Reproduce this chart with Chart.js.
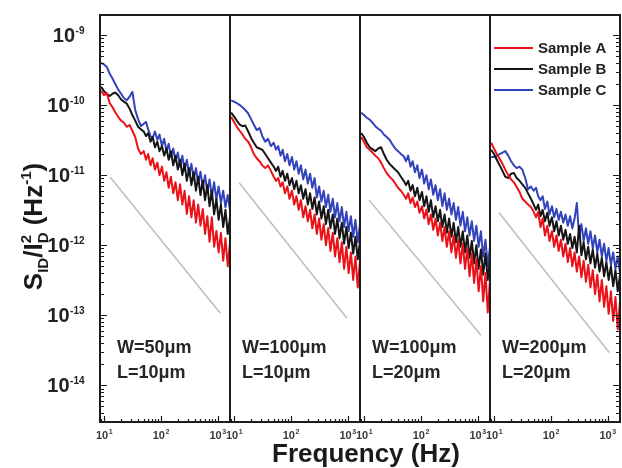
<!DOCTYPE html>
<html>
<head>
<meta charset="utf-8">
<script src="https://cdn.jsdelivr.net/npm/chart.js@4.4.1/dist/chart.umd.min.js"></script>
<style>
  html, body { margin: 0; padding: 0; background: #fff; }
  #wrap { width: 622px; height: 468px; }
</style>
</head>
<body>
<div id="wrap"><canvas id="noiseChart" width="622" height="468"></canvas></div>
<script>
// frequency points (Hz), shared by all four panels
const freqHz = [8.9, 10, 11.2, 12.6, 14.1, 15.8, 17.8, 20, 22.4, 25.1, 28.2, 31.6, 35.5, 39.8, 44.7, 50.1,
  55, 60, 66, 72, 79, 87, 95, 105, 115, 126, 138, 151, 166, 182, 200, 219, 240, 263, 288, 316, 347, 380,
  417, 457, 501, 550, 603, 661, 724, 794, 871, 955, 1047, 1148, 1259, 1380, 1514, 1660];

const sampleNames = ["Sample A", "Sample B", "Sample C"];
const sampleColors = ["#ea1218", "#151515", "#3343bb"];
const panelW = ["W=50\u03bcm", "W=100\u03bcm", "W=100\u03bcm", "W=200\u03bcm"];
const panelL = ["L=10\u03bcm", "L=10\u03bcm", "L=20\u03bcm", "L=20\u03bcm"];

// S_ID/I_D^2 (Hz^-1), panel 1 (W=50, L=10)
const p1SampleA = [1.6e-10, 1.38e-10, 1.48e-10, 1.07e-10, 9.3e-11, 7.9e-11, 6.8e-11, 6.0e-11, 5.6e-11, 4.9e-11,
  5.2e-11, 4.3e-11, 3.5e-11, 2.4e-11, 2.0e-11, 2.2e-11, 1.66e-11, 2.0e-11, 1.38e-11, 1.74e-11,
  1.2e-11, 1.51e-11, 1.0e-11, 1.32e-11, 8.3e-12, 1.1e-11, 6.6e-12, 9.5e-12, 5.5e-12, 7.9e-12,
  4.4e-12, 7.4e-12, 3.8e-12, 6.0e-12, 2.8e-12, 5.0e-12, 2.5e-12, 4.4e-12, 2.1e-12, 3.8e-12,
  1.9e-12, 3.3e-12, 1.45e-12, 2.6e-12, 1.12e-12, 2.5e-12, 9.5e-13, 1.6e-12, 7.9e-13, 1.5e-12,
  6.0e-13, 1.26e-12, 5.0e-13, 1.1e-12];
const p1SampleB = [1.82e-10, 1.58e-10, 1.45e-10, 1.35e-10, 1.45e-10, 1.51e-10, 1.38e-10, 1.2e-10, 1.12e-10, 1.05e-10,
  8.9e-11, 7.2e-11, 6.0e-11, 4.9e-11, 4.5e-11, 4.2e-11, 3.6e-11, 4.0e-11, 3.0e-11, 3.5e-11,
  2.5e-11, 3.0e-11, 2.2e-11, 2.6e-11, 1.9e-11, 2.4e-11, 1.66e-11, 2.2e-11, 1.38e-11, 1.9e-11,
  1.2e-11, 1.66e-11, 1.0e-11, 1.45e-11, 8.3e-12, 1.26e-11, 7.2e-12, 1.1e-11, 6.0e-12, 9.5e-12,
  5.2e-12, 8.3e-12, 4.4e-12, 7.2e-12, 3.6e-12, 6.0e-12, 2.75e-12, 4.6e-12, 2.3e-12, 3.8e-12,
  1.82e-12, 3.2e-12, 1.45e-12, 2.5e-12];
const p1SampleC = [4.0e-10, 3.8e-10, 3.5e-10, 2.8e-10, 2.4e-10, 2.0e-10, 1.66e-10, 1.45e-10, 1.26e-10, 1.17e-10,
  1.32e-10, 1.55e-10, 8.5e-11, 6.3e-11, 5.0e-11, 5.4e-11, 5.75e-11, 4.5e-11, 3.6e-11, 3.4e-11,
  4.2e-11, 3.2e-11, 3.8e-11, 2.6e-11, 3.3e-11, 2.2e-11, 2.8e-11, 1.82e-11, 2.4e-11, 1.58e-11,
  2.1e-11, 1.32e-11, 1.9e-11, 1.17e-11, 1.66e-11, 1.0e-11, 1.45e-11, 8.7e-12, 1.26e-11, 7.6e-12,
  1.12e-11, 6.6e-12, 1.0e-11, 5.75e-12, 8.7e-12, 5.0e-12, 7.9e-12, 4.5e-12, 6.9e-12, 4.0e-12,
  6.0e-12, 3.5e-12, 5.2e-12, 3.2e-12];

// panel 2 (W=100, L=10)
const p2SampleA = [6.8e-11, 5.75e-11, 4.9e-11, 4.3e-11, 3.8e-11, 3.3e-11, 3.0e-11, 2.5e-11, 2.0e-11, 1.74e-11,
  1.58e-11, 1.38e-11, 1.26e-11, 1.38e-11, 1.15e-11, 9.5e-12, 8.3e-12, 9.1e-12, 6.9e-12, 7.9e-12,
  5.5e-12, 6.9e-12, 4.6e-12, 6.0e-12, 3.8e-12, 5.0e-12, 3.2e-12, 4.4e-12, 2.5e-12, 3.6e-12,
  2.2e-12, 3.2e-12, 1.74e-12, 2.75e-12, 1.45e-12, 2.4e-12, 1.2e-12, 2.0e-12, 1.0e-12, 1.74e-12,
  8.3e-13, 1.51e-12, 6.9e-13, 1.26e-12, 5.75e-13, 1.1e-12, 4.6e-13, 9.5e-13, 4.0e-13, 7.9e-13,
  3.2e-13, 6.9e-13, 2.5e-13, 6.0e-13];
const p2SampleB = [7.8e-11, 6.9e-11, 6.0e-11, 5.25e-11, 5.0e-11, 5.1e-11, 4.2e-11, 3.4e-11, 2.9e-11, 2.5e-11,
  2.4e-11, 2.3e-11, 2.0e-11, 1.74e-11, 1.51e-11, 1.32e-11, 1.15e-11, 1.32e-11, 9.5e-12, 1.15e-11,
  8.3e-12, 1.05e-11, 7.2e-12, 9.1e-12, 6.3e-12, 8.3e-12, 5.5e-12, 7.2e-12, 4.6e-12, 6.3e-12,
  3.8e-12, 5.5e-12, 3.3e-12, 4.8e-12, 2.75e-12, 4.2e-12, 2.4e-12, 3.6e-12, 2.0e-12, 3.2e-12,
  1.74e-12, 2.75e-12, 1.45e-12, 2.4e-12, 1.26e-12, 2.1e-12, 1.05e-12, 1.82e-12, 9.1e-13, 1.51e-12,
  7.6e-13, 1.32e-12, 6.3e-13, 1.15e-12];
const p2SampleC = [1.17e-10, 1.12e-10, 1.07e-10, 1.0e-10, 9.3e-11, 8.5e-11, 7.6e-11, 6.3e-11, 5.25e-11, 4.4e-11,
  4.7e-11, 3.6e-11, 3.0e-11, 3.3e-11, 2.6e-11, 2.9e-11, 2.3e-11, 2.6e-11, 1.9e-11, 2.3e-11,
  1.58e-11, 2.0e-11, 1.38e-11, 1.82e-11, 1.2e-11, 1.58e-11, 1.05e-11, 1.38e-11, 8.7e-12, 1.2e-11,
  7.6e-12, 1.05e-11, 6.6e-12, 9.1e-12, 4.8e-12, 6.9e-12, 4.2e-12, 6.0e-12, 3.5e-12, 5.25e-12,
  3.0e-12, 4.6e-12, 2.5e-12, 4.0e-12, 2.2e-12, 3.5e-12, 1.82e-12, 3.0e-12, 1.58e-12, 2.6e-12,
  1.32e-12, 2.3e-12, 1.1e-12, 2.0e-12];

// panel 3 (W=100, L=20)
const p3SampleA = [3.5e-11, 3.0e-11, 2.5e-11, 2.3e-11, 2.1e-11, 1.9e-11, 1.74e-11, 1.51e-11, 1.26e-11, 1.07e-11,
  9.5e-12, 8.7e-12, 7.6e-12, 6.6e-12, 6.0e-12, 5.25e-12, 4.6e-12, 5.5e-12, 4.0e-12, 4.8e-12,
  3.5e-12, 4.2e-12, 2.9e-12, 3.6e-12, 2.4e-12, 3.2e-12, 2.0e-12, 2.75e-12, 1.66e-12, 2.4e-12,
  1.38e-12, 2.1e-12, 1.15e-12, 1.82e-12, 9.5e-13, 1.58e-12, 7.9e-13, 1.38e-12, 6.6e-13, 1.2e-12,
  5.5e-13, 1.05e-12, 4.6e-13, 9.1e-13, 3.6e-13, 7.6e-13, 2.9e-13, 6.3e-13, 2.2e-13, 5.0e-13,
  1.58e-13, 4.0e-13, 1.1e-13, 3.2e-13];
const p3SampleB = [4.0e-11, 3.5e-11, 2.9e-11, 2.5e-11, 2.35e-11, 2.2e-11, 2.4e-11, 2.5e-11, 2.0e-11, 1.66e-11,
  1.45e-11, 1.32e-11, 1.2e-11, 1.1e-11, 9.5e-12, 8.3e-12, 7.2e-12, 8.3e-12, 6.0e-12, 7.2e-12,
  5.0e-12, 6.6e-12, 4.4e-12, 5.75e-12, 3.6e-12, 5.0e-12, 3.0e-12, 4.4e-12, 2.5e-12, 3.6e-12,
  2.2e-12, 3.2e-12, 1.82e-12, 2.75e-12, 1.51e-12, 2.4e-12, 1.32e-12, 2.1e-12, 1.1e-12, 1.82e-12,
  9.5e-13, 1.58e-12, 7.9e-13, 1.38e-12, 6.6e-13, 1.15e-12, 5.5e-13, 1.0e-12, 4.6e-13, 8.7e-13,
  3.8e-13, 7.6e-13, 3.2e-13, 6.3e-13];
const p3SampleC = [7.8e-11, 7.2e-11, 6.6e-11, 6.2e-11, 5.6e-11, 5.0e-11, 4.6e-11, 4.3e-11, 3.8e-11, 3.5e-11,
  3.2e-11, 2.75e-11, 2.4e-11, 2.2e-11, 2.0e-11, 1.86e-11, 1.58e-11, 1.9e-11, 1.32e-11, 1.58e-11,
  1.1e-11, 1.38e-11, 9.1e-12, 1.2e-11, 7.6e-12, 1.0e-11, 6.3e-12, 8.7e-12, 5.25e-12, 7.2e-12,
  4.4e-12, 6.3e-12, 3.6e-12, 5.5e-12, 3.2e-12, 4.6e-12, 2.75e-12, 4.0e-12, 2.3e-12, 3.5e-12,
  1.9e-12, 3.0e-12, 1.58e-12, 2.5e-12, 1.38e-12, 2.2e-12, 1.15e-12, 1.9e-12, 9.5e-13, 1.58e-12,
  6.9e-13, 1.2e-12, 5.0e-13, 9.5e-13];

// panel 4 (W=200, L=20)
const p4SampleA = [2.9e-11, 2.4e-11, 2.0e-11, 1.7e-11, 1.45e-11, 1.2e-11, 1.0e-11, 8.7e-12, 7.9e-12, 6.8e-12,
  5.75e-12, 4.6e-12, 4.2e-12, 3.8e-12, 3.5e-12, 3.0e-12, 2.5e-12, 3.0e-12, 1.82e-12, 2.4e-12,
  1.38e-12, 1.9e-12, 1.15e-12, 1.58e-12, 9.5e-13, 1.38e-12, 8.3e-13, 1.2e-12, 6.9e-13, 1.05e-12,
  5.75e-13, 9.1e-13, 5.0e-13, 7.9e-13, 4.2e-13, 6.9e-13, 3.5e-13, 6.0e-13, 3.0e-13, 5.25e-13,
  2.5e-13, 4.4e-13, 2.0e-13, 3.8e-13, 1.58e-13, 3.2e-13, 1.32e-13, 2.6e-13, 1.05e-13, 2.2e-13,
  8.3e-14, 1.82e-13, 6.3e-14, 1.58e-13];
const p4SampleB = [2.3e-11, 2.0e-11, 1.66e-11, 1.38e-11, 1.15e-11, 9.5e-12, 9.1e-12, 1.05e-11, 1.07e-11, 9.1e-12,
  8.3e-12, 7.4e-12, 6.6e-12, 5.5e-12, 4.6e-12, 3.8e-12, 3.2e-12, 3.8e-12, 2.6e-12, 3.2e-12,
  2.2e-12, 2.9e-12, 1.9e-12, 2.5e-12, 1.58e-12, 2.2e-12, 1.38e-12, 1.9e-12, 1.2e-12, 1.66e-12,
  1.05e-12, 1.45e-12, 9.1e-13, 1.32e-12, 7.9e-13, 1.9e-12, 7.2e-13, 1.1e-12, 6.3e-13, 9.5e-13,
  5.5e-13, 8.7e-13, 4.8e-13, 7.6e-13, 4.2e-13, 6.6e-13, 3.6e-13, 5.75e-13, 3.2e-13, 5.0e-13,
  2.6e-13, 4.4e-13, 2.2e-13, 3.8e-13];
const p4SampleC = [1.82e-11, 1.82e-11, 1.9e-11, 2.0e-11, 2.1e-11, 2.2e-11, 1.9e-11, 1.58e-11, 1.38e-11, 1.26e-11,
  1.32e-11, 1.2e-11, 9.1e-12, 6.3e-12, 6.9e-12, 6.0e-12, 6.6e-12, 5.0e-12, 4.4e-12, 5.0e-12,
  3.3e-12, 4.2e-12, 2.75e-12, 3.6e-12, 2.5e-12, 3.3e-12, 2.3e-12, 3.0e-12, 2.1e-12, 2.75e-12,
  1.9e-12, 2.6e-12, 1.74e-12, 2.4e-12, 4.0e-12, 1.32e-12, 2.0e-12, 1.15e-12, 1.74e-12, 1.05e-12,
  1.58e-12, 9.1e-13, 1.38e-12, 7.9e-13, 1.2e-12, 6.9e-13, 1.05e-12, 6.0e-13, 9.1e-13, 5.25e-13,
  7.9e-13, 4.6e-13, 6.9e-13, 4.0e-13];

// grey 1/f guide line in each panel: [start, end]
const guideFreq = [[12.8, 1120], [12.3, 980], [12.3, 1150], [12.3, 1070]];
const guideNoise = [[9.4e-12, 1.07e-13], [7.8e-12, 9.1e-14], [4.4e-12, 5.2e-14], [2.9e-12, 2.95e-14]];

const yTickValues = [1e-14, 1e-13, 1e-12, 1e-11, 1e-10, 1e-9];
const xTickValues = [10, 100, 1000];
const xRange = [8.5, 1660];
const yRange = [3e-15, 1.93e-9];

const panelSeries = [
  [p1SampleA, p1SampleB, p1SampleC],
  [p2SampleA, p2SampleB, p2SampleC],
  [p3SampleA, p3SampleB, p3SampleC],
  [p4SampleA, p4SampleB, p4SampleC]
];

const fontFamily = "'Liberation Sans', Arial, sans-serif";
Chart.defaults.font.family = fontFamily;

const datasets = [];
panelSeries.forEach((series, p) => {
  series.forEach((vals, s) => {
    datasets.push({
      label: sampleNames[s],
      xAxisID: "x" + p,
      yAxisID: "y",
      data: freqHz.map((f, i) => ({ x: f, y: vals[i] })),
      borderColor: sampleColors[s],
      borderWidth: 2,
      borderJoinStyle: "round",
      pointRadius: 0,
      tension: 0,
      order: s
    });
  });
  datasets.push({
    label: "1/f",
    xAxisID: "x" + p,
    yAxisID: "y",
    data: guideFreq[p].map((f, i) => ({ x: f, y: guideNoise[p][i] })),
    borderColor: "#bdbdbd",
    borderWidth: 1.5,
    pointRadius: 0,
    order: 5
  });
});

const noPad = s => { s.paddingTop = 0; s.paddingBottom = 0; s.paddingLeft = 0; s.paddingRight = 0; };

const scales = {
  y: {
    type: "logarithmic",
    position: "left",
    min: yRange[0],
    max: yRange[1],
    grid: { display: false, drawTicks: false },
    border: { display: false },
    ticks: { display: false },
    afterBuildTicks: s => { s.ticks = yTickValues.map(v => ({ value: v })); },
    afterFit: s => { s.width = 100; noPad(s); }
  }
};
panelSeries.forEach((_, p) => {
  scales["x" + p] = {
    type: "logarithmic",
    axis: "x",
    position: "bottom",
    stack: "freq",
    stackWeight: 1,
    min: xRange[0],
    max: xRange[1],
    grid: { display: false, drawTicks: false },
    border: { display: false },
    ticks: { display: false },
    afterBuildTicks: s => { s.ticks = xTickValues.map(v => ({ value: v })); },
    afterFit: s => { s.height = 46; noPad(s); }
  };
});

// "10" with a small raised exponent, as in the original figure
function drawPower(ctx, v, x, baseline, size, supSize, align) {
  const e = String(Math.round(Math.log10(v)));
  ctx.font = "bold " + size + "px " + fontFamily;
  const w1 = ctx.measureText("10").width;
  ctx.font = "bold " + supSize + "px " + fontFamily;
  const w2 = ctx.measureText(e).width;
  const x0 = align === "right" ? x - w1 - w2 : x - (w1 + w2) / 2;
  ctx.textAlign = "left";
  ctx.textBaseline = "alphabetic";
  ctx.font = "bold " + size + "px " + fontFamily;
  ctx.fillText("10", x0, baseline);
  ctx.font = "bold " + supSize + "px " + fontFamily;
  ctx.fillText(e, x0 + w1 + 0.5, baseline - size * 0.42);
}

// frame, panel dividers, inward tick marks and tick labels
const framePlugin = {
  id: "frame",
  afterDatasetsDraw(chart) {
    const { ctx, chartArea: a, scales: sc } = chart;
    const y = sc.y;
    ctx.save();
    ctx.strokeStyle = "#1b1b1b";
    ctx.lineWidth = 1.2;
    ctx.beginPath();
    for (let e = -15; e <= -9; e++) {
      for (let m = 1; m <= 9; m++) {
        const v = m * Math.pow(10, e);
        if (v < y.min || v > y.max) continue;
        const py = Math.round(y.getPixelForValue(v)) + 0.5;
        const len = m === 1 ? 7 : 4;
        ctx.moveTo(a.left, py); ctx.lineTo(a.left + len, py);
        ctx.moveTo(a.right, py); ctx.lineTo(a.right - len, py);
      }
    }
    for (let p = 0; p < panelSeries.length; p++) {
      const xs = sc["x" + p];
      for (let e = 0; e <= 3; e++) {
        for (let m = 1; m <= 9; m++) {
          const v = m * Math.pow(10, e);
          if (v < xs.min || v > xs.max) continue;
          const px = Math.round(xs.getPixelForValue(v)) + 0.5;
          const len = m === 1 ? 6 : 3;
          ctx.moveTo(px, a.bottom); ctx.lineTo(px, a.bottom - len);
        }
      }
    }
    ctx.stroke();
    ctx.lineWidth = 2;
    ctx.strokeRect(a.left, a.top, a.right - a.left, a.bottom - a.top);
    ctx.beginPath();
    for (let p = 0; p < panelSeries.length - 1; p++) {
      const xr = Math.round(sc["x" + p].right);
      ctx.moveTo(xr, a.top); ctx.lineTo(xr, a.bottom);
    }
    ctx.stroke();

    // tick labels
    ctx.fillStyle = "#222";
    y.ticks.forEach(t => {
      const py = y.getPixelForValue(t.value);
      drawPower(ctx, t.value, a.left - 16, py + 7, 20, 10, "right");
    });
    ctx.fillStyle = "#3a3a3a";
    for (let p = 0; p < panelSeries.length; p++) {
      const xs = sc["x" + p];
      xs.ticks.forEach(t => {
        drawPower(ctx, t.value, xs.getPixelForValue(t.value), a.bottom + 17, 11, 7, "center");
      });
    }
    ctx.restore();
  }
};

function drawRuns(ctx, runs, base) {
  const widths = runs.map(r => { ctx.font = "bold " + r.size + "px " + fontFamily; return ctx.measureText(r.text).width; });
  let total = 0;
  for (let i = 0; i < runs.length; i++) {
    if (runs[i].keep) { total += Math.max(widths[i], widths[i + 1]); i++; } else total += widths[i];
  }
  let x = -total / 2;
  for (let i = 0; i < runs.length; i++) {
    const r = runs[i];
    ctx.font = "bold " + r.size + "px " + fontFamily;
    ctx.fillText(r.text, x, base + r.dy);
    if (r.keep) {
      const n = runs[i + 1];
      ctx.font = "bold " + n.size + "px " + fontFamily;
      ctx.fillText(n.text, x, base + n.dy);
      x += Math.max(widths[i], widths[i + 1]);
      i++;
    } else {
      x += widths[i];
    }
  }
}

const textPlugin = {
  id: "texts",
  afterDraw(chart) {
    const { ctx, chartArea: a, scales: sc } = chart;
    ctx.save();
    // legend inside the last panel
    const lx = sc["x" + (panelSeries.length - 1)].left + 4;
    ctx.textAlign = "left";
    ctx.textBaseline = "middle";
    sampleNames.forEach((name, i) => {
      const ly = a.top + 33 + i * 21;
      ctx.strokeStyle = sampleColors[i];
      ctx.lineWidth = 2;
      ctx.beginPath(); ctx.moveTo(lx, ly); ctx.lineTo(lx + 39, ly); ctx.stroke();
      ctx.fillStyle = "#222";
      ctx.font = "bold 15px " + fontFamily;
      ctx.fillText(name, lx + 44, ly + 1);
    });
    // device size labels
    const offs = [17, 12, 12, 12];
    ctx.fillStyle = "#262626";
    ctx.font = "bold 18px " + fontFamily;
    panelW.forEach((w, p) => {
      const x0 = sc["x" + p].left + offs[p];
      ctx.fillText(w, x0, a.bottom - 74);
      ctx.fillText(panelL[p], x0, a.bottom - 49);
    });
    // axis titles
    ctx.fillStyle = "#1a1a1a";
    ctx.textAlign = "center";
    ctx.textBaseline = "alphabetic";
    ctx.font = "bold 26px " + fontFamily;
    ctx.fillText("Frequency (Hz)", (a.left + a.right) / 2 + 6, 462);
    ctx.translate(33, (a.top + a.bottom) / 2 + 8);
    ctx.rotate(-Math.PI / 2);
    ctx.textAlign = "left";
    drawRuns(ctx, [
      { text: "S", size: 26, dy: 0 },
      { text: "ID", size: 15, dy: 6 },
      { text: "/I", size: 26, dy: 0 },
      { text: "D", size: 15, dy: 6, keep: true },
      { text: "2", size: 15, dy: -11 },
      { text: " (Hz", size: 26, dy: 0 },
      { text: "-1", size: 15, dy: -11 },
      { text: ")", size: 26, dy: 0 }
    ], 9);
    ctx.restore();
  }
};

new Chart(document.getElementById("noiseChart"), {
  type: "line",
  data: { datasets },
  options: {
    responsive: false,
    animation: false,
    events: [],
    layout: { padding: { left: 0, right: 2, top: 15, bottom: 0 } },
    scales,
    plugins: {
      legend: { display: false },
      tooltip: { enabled: false }
    }
  },
  plugins: [framePlugin, textPlugin]
});
</script>
</body>
</html>
